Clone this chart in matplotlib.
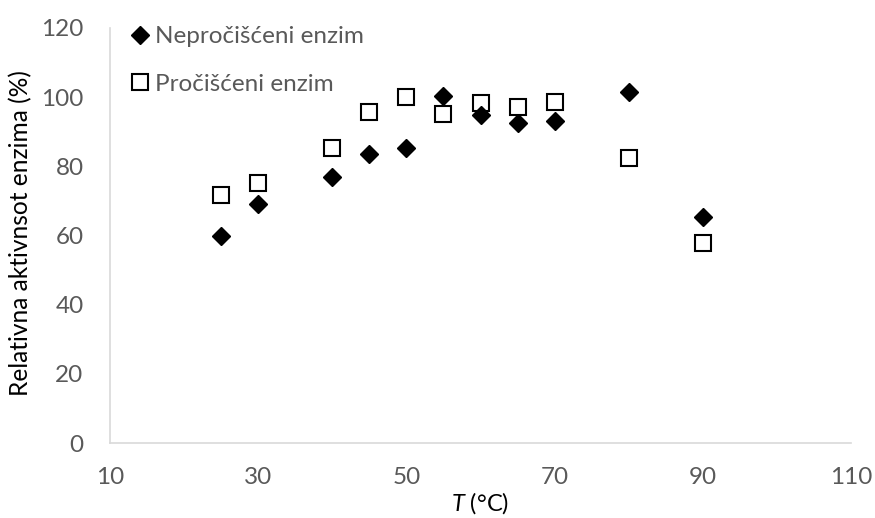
import matplotlib
matplotlib.use("Agg")
import matplotlib.pyplot as plt

temps = [25, 30, 40, 45, 50, 55, 60, 65, 70, 80, 90]
neprociscen = [60.0, 69.2, 76.8, 83.5, 85.2, 100.2, 94.7, 92.5, 93.1, 101.4, 65.3]
prociscen = [71.8, 75.3, 85.4, 95.7, 100.0, 95.0, 98.4, 97.3, 98.7, 82.5, 57.7]
series_names = ["Nepročišćeni enzim", "Pročišćeni enzim"]
xticks = [10, 30, 50, 70, 90, 110]
yticks = [0, 20, 40, 60, 80, 100, 120]

plt.rcParams['font.family'] = ['Lato', 'DejaVu Sans']
plt.rcParams['mathtext.fontset'] = 'custom'
plt.rcParams['mathtext.it'] = 'Lato:italic'
plt.rcParams['mathtext.rm'] = 'Lato'

W, H = 875, 518
fig = plt.figure(figsize=(W/100, H/100), dpi=100)
ax = fig.add_axes([110/W, 1-443/H, (851-110)/W, (443-28)/H])

ax.plot(temps, neprociscen, linestyle='none', marker='D', markersize=9.5,
        color='black', label=series_names[0], zorder=3)
ax.plot(temps, prociscen, linestyle='none', marker='s', markersize=12,
        markerfacecolor='white', markeredgecolor='black', markeredgewidth=1.5,
        label=series_names[1], zorder=2)

ax.set_xlim(10, 110)
ax.set_ylim(0, 120)
ax.set_xticks(xticks)
ax.set_yticks(yticks)
ax.tick_params(length=0, labelsize=17.5, colors='#595959')
ax.tick_params(axis='x', pad=17)
ax.tick_params(axis='y', pad=19)
for s in ['top', 'right']:
    ax.spines[s].set_visible(False)
for s in ['left', 'bottom']:
    ax.spines[s].set_color('#D9D9D9')
    ax.spines[s].set_linewidth(1.2)

ax.set_xlabel(r'$T$ (°C)', fontsize=17, color='black')
ax.xaxis.label.set_va('center')
ax.xaxis.set_label_coords(0.5, (443-503)/415)
ax.set_ylabel('Relativna aktivnsot enzima (%)', fontsize=20, color='black')
ax.yaxis.label.set_va('center')
ax.yaxis.set_label_coords((21-110)/741, (443-233)/415)

# scale the y-label font so its length matches the reference (~327 px)
fig.canvas.draw()
r = fig.canvas.get_renderer()
ext = ax.yaxis.label.get_window_extent(r)
fs = ax.yaxis.label.get_fontsize() * 327.0 / ext.height
ax.yaxis.label.set_fontsize(fs)

leg = ax.legend(loc='upper left', bbox_to_anchor=(128/W, 1-26/H),
                bbox_transform=fig.transFigure, frameon=False, fontsize=17.5,
                handletextpad=0.12, labelspacing=1.1, handlelength=1.0,
                borderaxespad=0, borderpad=0)
for t in leg.get_texts():
    t.set_color('#595959')

fig.savefig('out.png', dpi=100)
